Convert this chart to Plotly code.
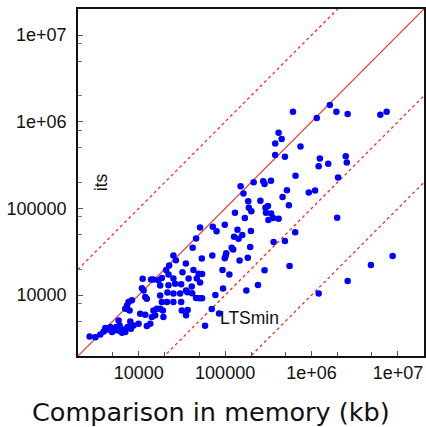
import plotly.graph_objects as go

# memory of comparison (x) vs memory of its (y), in kb
mem_x = [6.1e5, 1.15e6, 1.63e6, 1.94e6, 2.62e6, 6.26e6, 7.41e6, 4.16e5, 4.51e5, 3.8e5,
         7.46e5, 3.8e5, 4.92e5, 1.25e6, 2.49e6, 1.21e6, 1.56e6, 2.56e6, 6.53e5, 2.03e6,
         1.51e5, 2.14e5, 2.76e5, 2.86e5, 3.39e5, 1.63e5, 5.19e5, 4.62e5, 9.3e5, 1.10e6,
         1.85e5, 2.56e5, 5.47e5, 1.88e5, 2.01e5, 2.93e5, 3.13e5, 1.30e5, 1.98e6, 2.97e5,
         3.41e5, 3.6e5, 3.17e5, 4.16e5, 1.69e5, 9.9e4, 1.39e5, 1.58e5, 1.99e5, 1.27e5,
         1.43e5, 5.13e4, 7.2e4, 7.96e4, 4.61e4, 4.21e4, 1.19e5, 1.24e5, 1.95e5, 6.47e5,
         4.92e5, 3.64e5, 1.03e5, 1.01e5, 9.9e4, 7.11e4, 5.37e4, 1.47e5, 1.83e5, 5.57e5,
         2.86e5, 9.33e4, 1.12e5, 2.4e5, 1.76e5, 9.46e4, 7.71e4, 7.0e4, 8.51e4, 5.86e4,
         8.69e6, 4.87e6, 2.62e6, 1.21e6,
         2.52e4, 2.69e4, 3.51e4, 2.25e4, 2.08e4, 3.21e4, 4.3e4, 4.93e4, 5.41e4, 2.21e4,
         2.52e4, 3.78e4, 4.7e4, 1.85e4, 1.48e4, 1.11e4, 1.39e4, 5.13e4, 3.1e4, 4.11e4,
         3.53e4, 3.66e4, 4.15e4, 4.61e4, 5.04e4, 5.41e4, 3.1e4, 3.68e4, 3.53e4, 2.21e4,
         2.64e4, 3.15e4,
         2.7e3, 3.15e3, 3.59e3, 3.93e3, 4.1e3, 4.37e3, 4.69e3, 4.91e3, 5.12e3, 5.5e3,
         5.75e3, 6.0e3, 5.85e3, 6.4e3, 6.67e3, 6.99e3, 7.43e3, 7.98e3, 8.13e3, 8.71e3,
         9.95e3, 1.04e4, 1.19e4, 1.24e4, 1.36e4, 1.42e4, 1.48e4, 1.55e4, 1.62e4, 1.77e4,
         1.9e4, 1.93e4, 1.85e4, 1.77e4, 2.12e4, 2.52e4, 2.15e4, 2.52e4, 3.01e4, 1.69e4,
         1.77e4, 1.09e4, 1.14e4, 1.19e4, 1.24e4, 8.34e3, 7.62e3, 7.31e3, 6.99e3, 7.83e3]

mem_y = [1.31e6, 1.11e6, 1.56e6, 1.31e6, 1.23e6, 1.21e6, 1.31e6, 7.5e5, 6.32e5, 5.6e5,
         5.18e5, 4.14e5, 3.96e5, 3.76e5, 4.0e5, 3.06e5, 3.29e5, 3.38e5, 2.39e5, 2.27e5,
         1.80e5, 2.0e5, 2.06e5, 1.91e5, 2.09e5, 1.49e5, 1.62e5, 1.36e5, 1.53e5, 1.61e5,
         1.21e5, 1.23e5, 1.09e5, 1.02e5, 9.27e4, 1.02e5, 1.07e5, 8.94e4, 7.83e4, 8.9e4,
         8.77e4, 7.75e4, 7.35e4, 7.62e4, 7.78e4, 6.47e4, 5.69e4, 4.95e4, 5.51e4, 4.7e4,
         4.48e4, 6.01e4, 6.14e4, 5.44e4, 4.49e4, 3.51e4, 3.52e4, 3.37e4, 3.6e4, 5.32e4,
         4.21e4, 4.11e4, 3.05e4, 2.8e4, 2.67e4, 2.87e4, 2.64e4, 2.5e4, 2.69e4, 2.16e4,
         1.94e4, 1.95e4, 1.73e4, 1.31e4, 1.13e4, 1.19e4, 1.0e4, 6.93e3, 6.15e3, 4.44e3,
         2.82e4, 2.22e4, 1.45e4, 1.04e4,
         2.86e4, 2.53e4, 2.31e4, 2.19e4, 1.95e4, 1.83e4, 1.95e4, 1.76e4, 1.75e4, 1.73e4,
         1.55e4, 1.55e4, 1.55e4, 1.57e4, 1.51e4, 1.54e4, 1.51e4, 1.40e4, 1.33e4, 1.26e4,
         1.13e4, 1.08e4, 1.05e4, 9.23e3, 9.2e3, 9.2e3, 8.3e3, 6.75e3, 5.84e3, 1.30e4,
         1.35e4, 6.65e3,
         3.33e3, 3.27e3, 3.52e3, 3.81e3, 4.16e3, 4.02e3, 4.27e3, 3.74e3, 3.91e3, 4.27e3,
         3.91e3, 4.47e3, 5.1e3, 3.68e3, 4.02e3, 3.74e3, 4.27e3, 4.97e3, 4.09e3, 4.47e3,
         4.68e3, 6.1e3, 5.94e3, 4.39e3, 4.68e3, 5.57e3, 6.65e3, 5.84e3, 6.96e3, 6.96e3,
         6.65e3, 5.57e3, 8.3e3, 9.9e3, 8.3e3, 8.3e3, 1.07e4, 1.04e4, 1.04e4, 1.48e4,
         1.29e4, 1.2e4, 1.13e4, 9.48e3, 9.08e3, 8.69e3, 8.3e3, 7.6e3, 6.96e3, 6.65e3]

# reference lines y = ratio * x
line_x = [1e3, 1e8]
ratios = [10, 1, 0.1, 0.01]

tick_vals = [1e4, 1e5, 1e6, 1e7]
tick_text = ["10000", "100000", "1e+06", "1e+07"]
x_minor = [m * 10 ** e for e in range(3, 8) for m in (2, 5)]
y_minor = [m * 10 ** e for e in range(3, 8) for m in (2, 5, 8)]

fig = go.Figure()
for r in ratios:
    fig.add_trace(go.Scatter(
        x=line_x, y=[v * r for v in line_x], mode="lines",
        line=dict(color="#ff2a2a", width=1.2 if r == 1 else 1.3,
                  dash="solid" if r == 1 else "dot"),
        hoverinfo="skip", showlegend=False))

fig.add_trace(go.Scatter(
    x=mem_x, y=mem_y, mode="markers",
    marker=dict(color="#0000ff", size=6.5, line=dict(width=0)),
    showlegend=False))

axis_common = dict(
    type="log", range=[3.297, 7.302], automargin=False,
    tickvals=tick_vals, ticktext=tick_text,
    ticks="inside", ticklen=5, tickwidth=1, tickcolor="#555",
    showline=True, linecolor="#111", linewidth=1.5, mirror=True,
    showgrid=False, zeroline=False,
    tickfont=dict(family="Liberation Sans, Arial, sans-serif", size=18, color="#111"),
)

fig.update_xaxes(**axis_common, minor=dict(tickvals=x_minor, ticks="inside", ticklen=4,
                                           tickcolor="#555", showgrid=False),
                 ticklabelstandoff=0)
fig.update_yaxes(**axis_common, minor=dict(tickvals=y_minor, ticks="inside", ticklen=4,
                                           tickcolor="#777", showgrid=False),
                 ticklabelstandoff=6)

fig.add_annotation(text="its", xref="paper", yref="paper", x=0.03, y=0.502,
                   textangle=-90, showarrow=False,
                   font=dict(family="Liberation Sans, Arial, sans-serif", size=17.5, color="#111"))
fig.add_annotation(text="LTSmin", xref="paper", yref="paper", x=0.496, y=0.076,
                   showarrow=False,
                   font=dict(family="Liberation Sans, Arial, sans-serif", size=17.5, color="#111"))
fig.add_annotation(text="Comparison in memory (kb)", xref="paper", yref="paper",
                   x=0.384, y=-0.16, yanchor="middle", showarrow=False,
                   font=dict(family="DejaVu Sans, sans-serif", size=25.5, color="#111"))

fig.update_layout(
    width=426, height=427,
    margin=dict(l=78, r=2, t=9, b=71, pad=0),
    paper_bgcolor="white", plot_bgcolor="white",
)

fig.write_html("out.html", config={"displayModeBar": False},
               post_script="document.body.style.margin='0';document.body.style.overflow='hidden';")
